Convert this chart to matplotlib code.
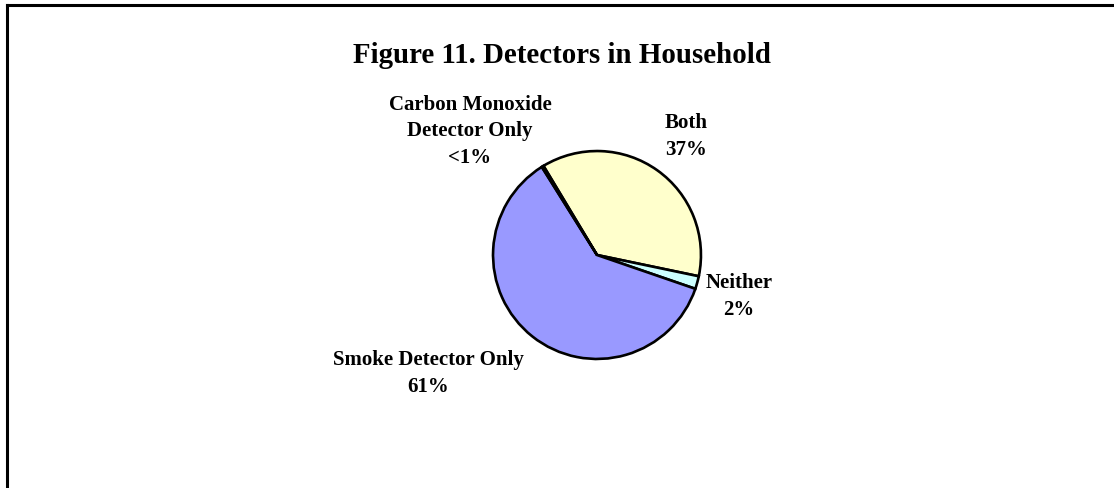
import matplotlib.pyplot as plt

plt.rcParams['font.family'] = ['Liberation Serif', 'DejaVu Serif']

# Data
labels = ['Both', 'Neither', 'Smoke Detector Only', 'Carbon Monoxide\nDetector Only']
values = [37, 2, 61, 0.3]
pct_text = ['37%', '2%', '61%', '<1%']
colors = ['#FFFFCC', '#CCFFFF', '#9999FF', '#993366']

W, H = 1114, 488
fig = plt.figure(figsize=(W / 100, H / 100), dpi=100, facecolor='white')

# frame (chart is cropped: only left and top edges visible)
fig.add_artist(plt.Line2D([7 / W, 7 / W], [0, 1 - 5 / H], color='black', lw=2.2,
                          transform=fig.transFigure))
fig.add_artist(plt.Line2D([7 / W, 1], [1 - 5 / H, 1 - 5 / H], color='black', lw=2.2,
                          transform=fig.transFigure))

# pie placed at center (597, 255) px, radius 105 px
cx, cy, r = 597, 255, 105
ax = fig.add_axes([(cx - r) / W, 1 - (cy + r) / H, 2 * r / W, 2 * r / H])
ax.pie(values, colors=colors, startangle=121, counterclock=False,
       wedgeprops=dict(edgecolor='black', linewidth=1.9))
ax.set_xlim(-1.01, 1.01)
ax.set_ylim(-1.01, 1.01)
ax.set_aspect('equal')
ax.axis('off')

fig.text(562 / W, 1 - 63 / H, 'Figure 11. Detectors in Household',
         ha='center', va='baseline', fontsize=20.8, fontweight='bold')

# slice labels (pixel positions of the last baseline)
label_pos = [(686, 155), (739, 315), (428, 392), (470, 163)]
for lab, pct, (x, y) in zip(labels, pct_text, label_pos):
    fig.text(x / W, 1 - y / H, lab + '\n' + pct, ha='center', va='baseline',
             fontsize=15, fontweight='bold', linespacing=1.45)

plt.savefig('out.png', dpi=100, facecolor='white')
